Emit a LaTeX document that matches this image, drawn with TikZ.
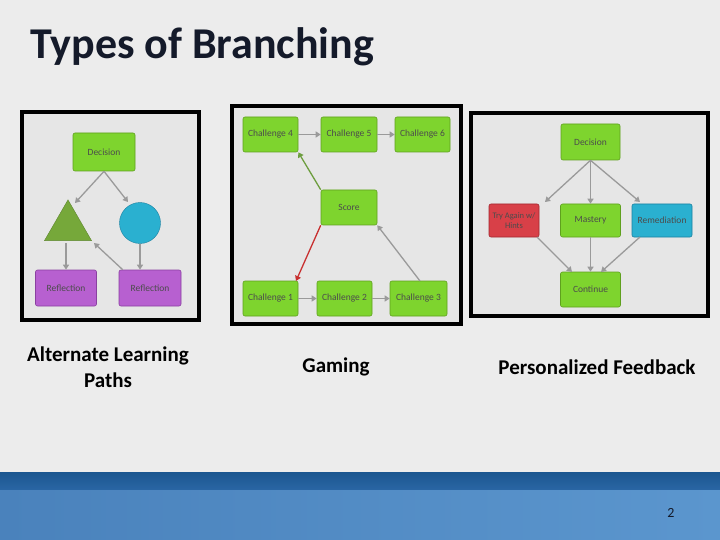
\documentclass[tikz,border=0pt]{standalone}
\usepackage{fontspec}
\setmainfont{Carlito}
\usetikzlibrary{shapes.geometric,arrows.meta}
\definecolor{bg}{HTML}{ECECEC}
\definecolor{inner}{HTML}{E6E6E6}
\definecolor{gfill}{HTML}{7ED42E}
\definecolor{gdraw}{HTML}{5FA01E}
\definecolor{pfill}{HTML}{B760D0}
\definecolor{pdraw}{HTML}{8A40A0}
\definecolor{rfill}{HTML}{D84048}
\definecolor{rdraw}{HTML}{A02830}
\definecolor{cfill}{HTML}{2AB0D0}
\definecolor{cdraw}{HTML}{1A80A0}
\definecolor{tfill}{HTML}{76A83A}
\definecolor{arr}{HTML}{9A9A9A}
\definecolor{garr}{HTML}{6E9E40}
\definecolor{rarr}{HTML}{C83030}
\definecolor{navy}{HTML}{141A2A}
\definecolor{band1}{HTML}{1B5690}
\definecolor{band2}{HTML}{2A66A4}
\definecolor{band3}{HTML}{4A82BC}
\definecolor{band4}{HTML}{5B96CE}
\tikzset{
 x=1pt,y=-1pt,
 frame/.style={draw=black,line width=3.5pt,fill=inner},
 boxbase/.style={rounded corners=2pt,font=\fontsize{9.5}{10}\selectfont,text=black!70,inner sep=0pt,align=center,minimum height=35pt,line width=0.6pt},
 boxg/.style={boxbase,draw=gdraw,fill=gfill},
 link/.style={draw=arr,line width=1.3pt,-{Triangle[length=5pt,width=6pt]}},
 lbl/.style={font=\fontsize{21}{26}\selectfont\bfseries,align=center,text=black}
}
\begin{document}
\begin{tikzpicture}
\useasboundingbox (0,0) rectangle (720,540);
\fill[bg] (0,0) rectangle (720,472);
\shade[top color=band1,bottom color=band2] (0,472) rectangle (720,490);
\shade[left color=band3,right color=band4] (0,490) rectangle (720,540);
% title
\node[anchor=west,font=\fontsize{44}{46}\selectfont\bfseries,text=navy,inner sep=0pt] (title) at (30,47) {Types of Branching};
% Panel 1
\draw[frame] (22,112) rectangle (199,320);
\node[boxg,minimum width=62pt,minimum height=38pt] (d1) at (104,152) {Decision};
\node[isosceles triangle,isosceles triangle apex angle=60,shape border rotate=90,fill=tfill,draw=tfill!80!black,inner sep=0pt,minimum height=37pt,minimum width=47pt] (tri) at (68,227) {};
\node[circle,fill=cfill,draw=cdraw,minimum size=41pt,inner sep=0pt] (circ) at (140,223) {};
\node[boxbase,draw=pdraw,fill=pfill,minimum width=61pt,minimum height=36pt] (r1) at (66,288) {Reflection};
\node[boxbase,draw=pdraw,fill=pfill,minimum width=62pt,minimum height=36pt] (r2) at (150,288) {Reflection};
\draw[link] (d1.south) -- (75,203);
\draw[link] (d1.south) -- (128,202);
\draw[link] (66,243) -- (r1.north-|66,0);
\draw[link] (circ.south) -- (r2.north-|circ.south);
\draw[link] (r2.north west) ++(4,0) -- (94,243);
% Panel 2
\draw[frame] (232,106) rectangle (461,324);
\node[boxg,minimum width=55pt] (c4) at (270.5,134.5) {Challenge 4};
\node[boxg,minimum width=56pt] (c5) at (349,134.5) {Challenge 5};
\node[boxg,minimum width=55pt] (c6) at (422.5,134.5) {Challenge 6};
\node[boxg,minimum width=56pt] (sc) at (349,207.5) {Score};
\node[boxg,minimum width=55pt] (c1) at (270.5,298.5) {Challenge 1};
\node[boxg,minimum width=55pt] (c2) at (344.5,298.5) {Challenge 2};
\node[boxg,minimum width=57pt] (c3) at (418.5,298.5) {Challenge 3};
\draw[link] (c4) -- (c5);
\draw[link] (c5) -- (c6);
\draw[link] (c1) -- (c2);
\draw[link] (c2) -- (c3);
\draw[link,draw=garr] (sc.north west) -- (c4.south east);
\draw[link,draw=rarr] (sc.south west) -- (296,281);
\draw[link] (420,281) -- (sc.south east);
% Panel 3
\draw[frame] (471,113) rectangle (708,316);
\node[boxg,minimum width=59pt,minimum height=36pt] (d3) at (590.5,142) {Decision};
\node[boxbase,draw=rdraw,fill=rfill,minimum width=50pt,minimum height=33pt,font=\fontsize{8.5}{9.5}\selectfont] (try) at (514,220.5) {Try Again w/\\Hints};
\node[boxg,minimum width=60pt,minimum height=33pt] (mas) at (590.5,220.5) {Mastery};
\node[boxbase,draw=cdraw,fill=cfill,minimum width=60pt,minimum height=33pt] (rem) at (662,220.5) {Remediation};
\node[boxg,minimum width=60pt,minimum height=35pt] (con) at (590.5,289.5) {Continue};
\draw[link] (d3.south) -- (545,202);
\draw[link] (d3.south) -- (mas.north);
\draw[link] (d3.south) -- (640,202);
\draw[link] (537,237) -- (572,272);
\draw[link] (mas.south) -- (con.north);
\draw[link] (640,237) -- (601,272);
% labels
\node[lbl] (l1) at (108,367) {Alternate Learning\\Paths};
\node[lbl] (l2) at (336,367) {Gaming};
\node[lbl] (l3) at (597,367) {Personalized Feedback};
\node[font=\fontsize{14}{16}\selectfont,text=navy] (pg) at (671,513) {2};
\end{tikzpicture}
\end{document}
